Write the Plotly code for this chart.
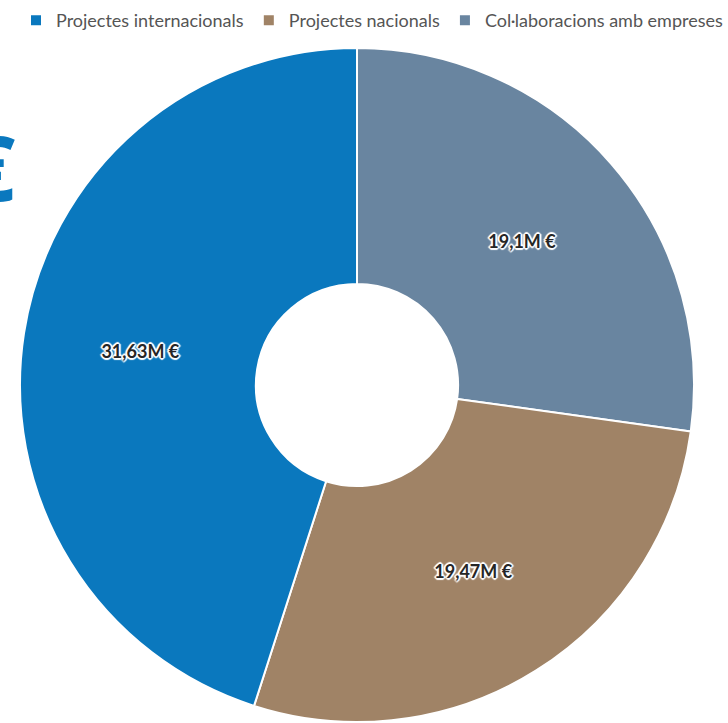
import plotly.graph_objects as go

categories = ["Projectes internacionals", "Projectes nacionals", "Col·laboracions amb empreses"]
values = [31.63, 19.47, 19.1]
value_labels = ["31,63M €", "19,47M €", "19,1M €"]
colors = ["#0a78be", "#a08366", "#6985a0"]

W, H = 728, 723
cx, cy, R = 357, 385, 337

outline = ", ".join(f"{dx}px {dy}px 1px white" for dx, dy in
                    [(2, 0), (-2, 0), (0, 2), (0, -2), (1, 1), (-1, -1), (1, -1), (-1, 1)])

fig = go.Figure()
fig.add_trace(go.Pie(
    labels=categories[::-1],
    values=values[::-1],
    text=value_labels[::-1],
    textinfo="text",
    textposition="inside",
    insidetextorientation="horizontal",
    hole=0.30,
    sort=False,
    direction="clockwise",
    rotation=0,
    marker=dict(colors=colors[::-1], line=dict(color="white", width=2)),
    textfont=dict(family="Lato", size=18, color="#262626", weight="bold", shadow=outline),
    domain=dict(x=[(cx - R) / W, (cx + R) / W], y=[(H - (cy + R)) / H, (H - (cy - R)) / H]),
    hoverinfo="label+text",
))

fig.add_annotation(
    text="€", xref="paper", yref="paper", x=17 / W, y=(H - 166) / H,
    xanchor="right", yanchor="middle", showarrow=False,
    font=dict(family="Open Sans", size=90, color="#0a78be", weight="bold"),
)

fig.update_layout(
    width=W, height=H,
    margin=dict(l=0, r=0, t=0, b=0, autoexpand=False),
    paper_bgcolor="white",
    plot_bgcolor="white",
    showlegend=True,
    legend=dict(orientation="h", x=1, xanchor="right", y=0.997, yanchor="top",
                font=dict(family="Lato", size=18, color="#555555"),
                itemwidth=30, tracegroupgap=0, traceorder="reversed"),
)

fig.write_html("out.html", config={"displayModeBar": False},
               post_script="document.body.style.margin='0';")
